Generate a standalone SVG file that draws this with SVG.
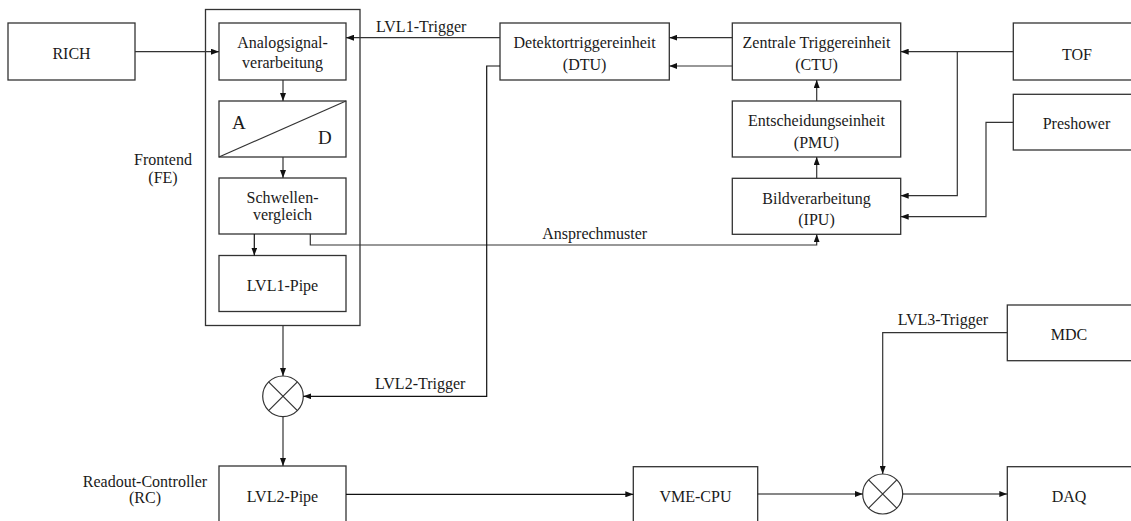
<svg xmlns="http://www.w3.org/2000/svg" width="1131" height="521" viewBox="0 0 1131 521">
<style>
.box{fill:#fff;stroke:#333;stroke-width:1.3}
.ln{fill:none;stroke:#111;stroke-width:1.2}
.lb{fill:none;stroke:#333;stroke-width:1.2}
text{font-family:"Liberation Serif","Times New Roman",serif;font-size:16px;fill:#1a1a1a}
.c{text-anchor:middle}
.big{font-size:19px}
</style>
<defs>
<marker id="ah" viewBox="0 0 8 6" refX="8" refY="3" markerWidth="8" markerHeight="6" markerUnits="userSpaceOnUse" orient="auto">
<path d="M0,0 L8,3 L0,6 z" fill="#111"/>
</marker>
</defs>
<rect width="1131" height="521" fill="#fff"/>

<g id="frontend">
<rect class="box" x="205.5" y="9.5" width="154.5" height="316"/>
<text class="c" x="163" y="165">Frontend</text>
<text class="c" x="163" y="183">(FE)</text>
</g>
<g id="rich">
<rect class="box" x="8" y="23" width="127" height="57"/>
<text class="c" x="71.5" y="59">RICH</text>
</g>
<g id="analog">
<rect class="box" x="219" y="23" width="127" height="57"/>
<text class="c" x="282.5" y="48">Analogsignal-</text>
<text class="c" x="282.5" y="68">verarbeitung</text>
</g>
<g id="ad">
<rect class="box" x="219" y="101" width="127" height="56"/>
<line class="lb" x1="219" y1="157" x2="346" y2="101"/>
<text class="big" x="232" y="129">A</text>
<text class="big" x="318" y="143.5">D</text>
</g>
<g id="schwellen">
<rect class="box" x="219" y="178" width="127" height="56"/>
<text class="c" x="282.5" y="203">Schwellen-</text>
<text class="c" x="282.5" y="219.5">vergleich</text>
</g>
<g id="lvl1pipe">
<rect class="box" x="219" y="255.5" width="127" height="56"/>
<text class="c" x="282.5" y="290.5">LVL1-Pipe</text>
</g>
<g id="mult1">
<circle class="lb" cx="283" cy="396.3" r="20.3"/>
<path class="lb" d="M268.6,381.9 L297.4,410.7 M297.4,381.9 L268.6,410.7"/>
</g>
<g id="lvl2pipe">
<rect class="box" x="219" y="466" width="127" height="57"/>
<text class="c" x="282.5" y="502">LVL2-Pipe</text>
</g>
<g id="rc">
<text class="c" x="145" y="487">Readout-Controller</text>
<text class="c" x="145" y="503">(RC)</text>
</g>
<g id="dtu">
<rect class="box" x="500" y="23" width="169.3" height="57"/>
<text class="c" x="584.6" y="48">Detektortriggereinheit</text>
<text class="c" x="584.6" y="70">(DTU)</text>
</g>
<g id="ctu">
<rect class="box" x="732.3" y="23" width="168.4" height="57"/>
<text class="c" x="816.5" y="48">Zentrale Triggereinheit</text>
<text class="c" x="816.5" y="70">(CTU)</text>
</g>
<g id="pmu">
<rect class="box" x="732.3" y="101" width="168.4" height="56"/>
<text class="c" x="816.5" y="126">Entscheidungseinheit</text>
<text class="c" x="816.5" y="148">(PMU)</text>
</g>
<g id="ipu">
<rect class="box" x="732.3" y="178.3" width="168.4" height="56"/>
<text class="c" x="816.5" y="204">Bildverarbeitung</text>
<text class="c" x="816.5" y="225">(IPU)</text>
</g>
<g id="tof">
<rect class="box" x="1013.3" y="23" width="130" height="57"/>
<text class="c" x="1077" y="60">TOF</text>
</g>
<g id="preshower">
<rect class="box" x="1013.3" y="94.3" width="130" height="55.7"/>
<text class="c" x="1076.5" y="129">Preshower</text>
</g>
<g id="mdc">
<rect class="box" x="1007.3" y="305" width="130" height="55.7"/>
<text class="c" x="1069" y="340">MDC</text>
</g>
<g id="vmecpu">
<rect class="box" x="633.3" y="466.7" width="124.4" height="57"/>
<text class="c" x="695.5" y="502">VME-CPU</text>
</g>
<g id="mult2">
<circle class="lb" cx="882.7" cy="494" r="20"/>
<path class="lb" d="M868.6,479.9 L896.8,508.1 M896.8,479.9 L868.6,508.1"/>
</g>
<g id="daq">
<rect class="box" x="1007.3" y="466.7" width="130" height="57"/>
<text class="c" x="1069" y="502">DAQ</text>
</g>

<g id="connectors">
<path class="lb" d="M135,51.7 H219" marker-end="url(#ah)"/>
<path class="lb" d="M500,37.7 H346" marker-end="url(#ah)"/>
<path class="lb" d="M283,80 V101" marker-end="url(#ah)"/>
<path class="lb" d="M283,157 V178" marker-end="url(#ah)"/>
<path class="ln" d="M254.3,234 V255.5" marker-end="url(#ah)"/>
<path class="lb" d="M310.3,234 V245 H816.7 V234.3" marker-end="url(#ah)"/>
<path class="lb" d="M283,325.5 V376" marker-end="url(#ah)"/>
<path class="ln" d="M500,66 H486.7 V396.3 H303.3" marker-end="url(#ah)"/>
<path class="lb" d="M283,416.6 V466" marker-end="url(#ah)"/>
<path class="ln" d="M346,494.3 H633.3" marker-end="url(#ah)"/>
<path class="ln" d="M757.7,494 H862.7" marker-end="url(#ah)"/>
<path class="ln" d="M902.7,494 H1007.3" marker-end="url(#ah)"/>
<path class="lb" d="M1007.3,332.7 H882.7 V474" marker-end="url(#ah)"/>
<path class="lb" d="M732.3,37.7 H669.3" marker-end="url(#ah)"/>
<path class="lb" d="M732.3,66 H669.3" marker-end="url(#ah)"/>
<path class="lb" d="M1013.3,51.7 H900.7" marker-end="url(#ah)"/>
<path class="lb" d="M957.3,51.7 V195.7 H900.7" marker-end="url(#ah)"/>
<path class="lb" d="M1013.3,122.3 H986 V216.7 H900.7" marker-end="url(#ah)"/>
<path class="lb" d="M816.7,101 V80" marker-end="url(#ah)"/>
<path class="lb" d="M816.7,178.3 V157" marker-end="url(#ah)"/>
<text x="376" y="31.5">LVL1-Trigger</text>
<text x="542.3" y="238.5">Ansprechmuster</text>
<text x="375" y="389">LVL2-Trigger</text>
<text x="897.7" y="325">LVL3-Trigger</text>
</g>
</svg>
